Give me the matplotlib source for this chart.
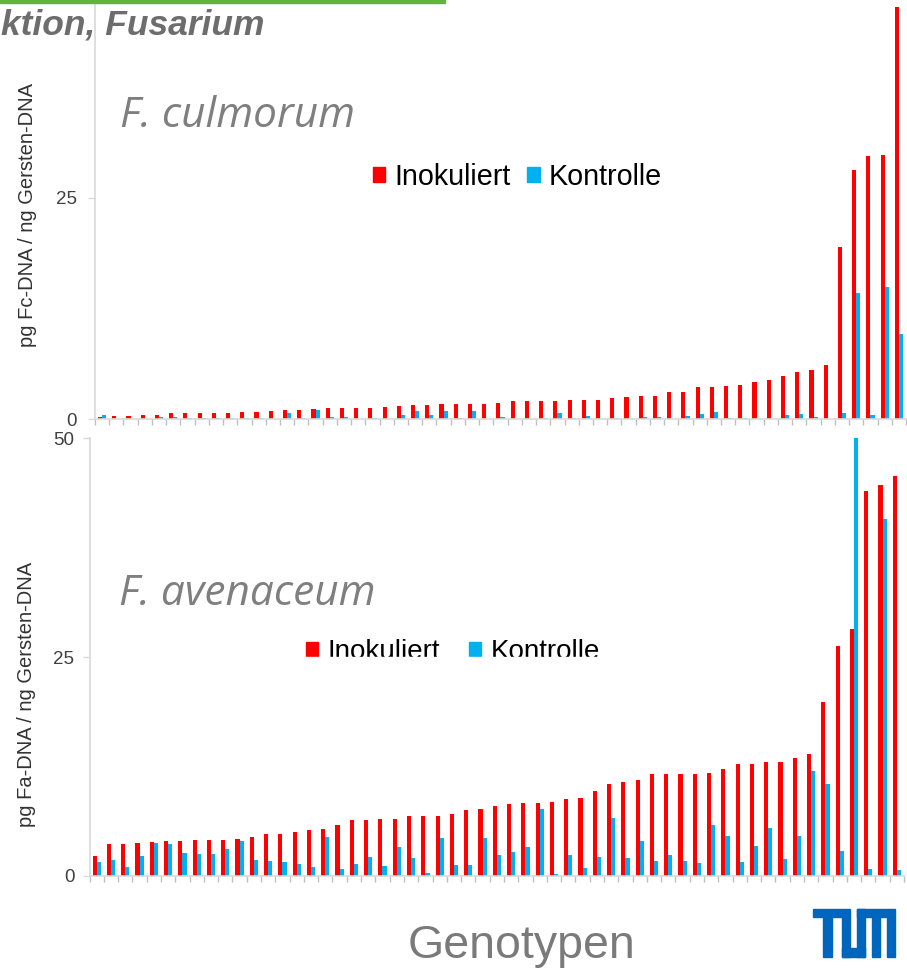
import numpy as np
import matplotlib.pyplot as plt
from matplotlib.patches import Rectangle, Patch

# values (57 genotypes, sorted by inoculated value)
culm_inok = [0.2, 0.3, 0.3, 0.4, 0.5, 0.65, 0.65, 0.7, 0.7, 0.7,
             0.8, 0.8, 0.9, 1.0, 1.05, 1.13, 1.2, 1.2, 1.2, 1.3,
             1.35, 1.47, 1.6, 1.6, 1.66, 1.66, 1.7, 1.7, 1.85, 2.0,
             2.0, 2.0, 2.0, 2.1, 2.15, 2.2, 2.4, 2.5, 2.55, 2.65,
             3.0, 3.05, 3.65, 3.65, 3.77, 3.85, 4.2, 4.45, 4.9, 5.35,
             5.55, 6.1, 19.5, 28.2, 29.8, 29.9, 46.6]
culm_kontr = [0.5, 0, 0, 0, 0.25, 0.25, 0.1, 0.1, 0.1, 0.1,
              0.1, 0.1, 0, 0.65, 0.1, 1.0, 0.2, 0.2, 0, 0.15,
              0, 0.4, 0.9, 0.4, 0.9, 0.15, 0.9, 0.05, 0.2, 0,
              0, 0.15, 0.65, 0.15, 0.35, 0, 0.15, 0, 0.2, 0.2,
              0, 0.35, 0.6, 0.75, 0.15, 0.15, 0, 0.05, 0.4, 0.55,
              0.25, 0, 0.65, 14.3, 0.5, 14.9, 9.6]
aven_inok = [2.24, 3.61, 3.69, 3.8, 3.88, 3.99, 3.99, 4.07, 4.07, 4.07,
             4.26, 4.41, 4.75, 4.75, 5.02, 5.29, 5.32, 5.86, 6.35, 6.43,
             6.54, 6.54, 6.84, 6.88, 6.88, 7.07, 7.57, 7.6, 8.02, 8.17,
             8.29, 8.37, 8.44, 8.82, 8.9, 9.73, 10.46, 10.68, 10.99, 11.63,
             11.63, 11.63, 11.67, 11.75, 12.2, 12.81, 12.81, 13.04, 13.04, 13.46,
             13.95, 19.85, 26.3, 28.2, 43.9, 44.6, 45.7]
aven_kontr = [1.63, 1.79, 0.99, 2.24, 3.76, 3.69, 2.59, 2.47, 2.47, 3.04,
              3.99, 1.86, 1.67, 1.63, 1.37, 1.06, 4.45, 0.8, 1.33, 2.17,
              1.1, 3.35, 2.05, 0.3, 4.33, 1.25, 1.25, 4.3, 2.36, 2.78,
              3.27, 7.6, 0.19, 2.43, 0.91, 2.17, 6.62, 2.02, 4.03, 1.67,
              2.36, 1.75, 1.48, 5.82, 4.56, 1.6, 3.38, 5.44, 1.9, 4.52,
              11.98, 10.53, 2.8, 50.0, 0.84, 40.8, 0.65]
series_names = ['Inokuliert', 'Kontrolle']
colors = ['#ff0000', '#00b0f0']

W, H = 907, 974
fig = plt.figure(figsize=(W / 100, H / 100), dpi=100)
plt.rcParams['font.family'] = ['Liberation Sans', 'DejaVu Sans']


def fx(px):
    return px / W


def fy(py):
    return 1 - py / H


def draw(ax, inok, kontr, ymax, ticks, pad):
    x = np.arange(len(inok))
    w = 0.29
    ax.bar(x - w / 2, inok, w, color=colors[0], linewidth=0)
    ax.bar(x + w / 2, kontr, w, color=colors[1], linewidth=0)
    ax.set_xlim(-0.5, len(inok) - 0.5)
    ax.set_ylim(0, ymax)
    ax.set_yticks(ticks)
    ax.set_xticks(np.arange(-0.5, len(inok)))
    ax.set_xticklabels([])
    for s in ['top', 'right']:
        ax.spines[s].set_visible(False)
    for s in ['left', 'bottom']:
        ax.spines[s].set_color('#d9d9d9')
        ax.spines[s].set_linewidth(1.2)
    ax.tick_params(axis='x', length=4, color='#bfbfbf', width=1)
    ax.tick_params(axis='y', length=5, color='#d9d9d9', width=1,
                   labelsize=13.5, labelcolor='#404040', pad=pad)
    ax.patch.set_alpha(0)


ax1 = fig.add_axes([fx(95), fy(419), fx(906) - fx(95), 419 / H])
draw(ax1, culm_inok, culm_kontr, 419 / 8.84, [0, 25], 8)
ax2 = fig.add_axes([fx(89.6), fy(876), fx(904) - fx(89.6), (876 - 438) / H])
draw(ax2, aven_inok, aven_kontr, 50, [0, 25, 50], 6)

# y labels
fig.text(fx(28), fy(215), 'pg Fc-DNA / ng Gersten-DNA', rotation=90,
         ha='center', va='center', fontsize=14.5, color='#333333')
fig.text(fx(27), fy(694), 'pg Fa-DNA / ng Gersten-DNA', rotation=90,
         ha='center', va='center', fontsize=14.5, color='#333333')

# species labels
fig.text(fx(120), fy(127), 'F. culmorum', fontsize=30.5, style='italic',
         family='Open Sans', color='#7f7f7f', va='baseline')
fig.text(fx(119), fy(605), 'F. avenaceum', fontsize=30.5, style='italic',
         family='Open Sans', color='#7f7f7f', va='baseline')

# legends
handles = [Patch(color=c, label=n) for c, n in zip(colors, series_names)]
for lx, ly, fs, tpad, cspace in [(373, 177, 20.7, 0.3, 0.6),
                                 (306, 652, 20, 0.35, 1.05)]:
    fig.legend(handles=handles, loc='center left', ncol=2, frameon=False,
               bbox_to_anchor=(fx(lx), fy(ly)), borderaxespad=0, borderpad=0,
               fontsize=fs, handlelength=0.43, handleheight=0.43,
               handletextpad=tpad, columnspacing=cspace)
# the lower legend is cut off in the slide
fig.patches.append(Rectangle((fx(280), fy(680)), fx(360), 23 / H,
                             transform=fig.transFigure, color='white', zorder=10))

# slide header
fig.patches.append(Rectangle((0, fy(3)), fx(445), 3 / H, transform=fig.transFigure,
                             color='#64b43c', zorder=11))
fig.text(fx(1), fy(34), 'ktion, Fusarium', fontsize=25.5, weight='bold',
         style='italic', color='#6d6d6d', va='baseline')

fig.text(fx(522), fy(958), 'Genotypen', fontsize=33.5, color='#7a7a7a',
         ha='center', va='baseline')

# TUM logo blocks (x0, y0, x1, y1 in pixels)
logo = [(813, 909, 850, 917), (823, 917, 832, 957), (842, 917, 850, 957),
        (842, 948, 865, 957), (857, 909, 865, 957), (857, 909, 895, 917),
        (872, 917, 880, 957), (887, 917, 895, 957)]
for x0, y0, x1, y1 in logo:
    fig.patches.append(Rectangle((fx(x0), fy(y1)), fx(x1 - x0), (y1 - y0) / H,
                                 transform=fig.transFigure, color='#0065bd', zorder=11))

fig.savefig('out.png', dpi=100)
